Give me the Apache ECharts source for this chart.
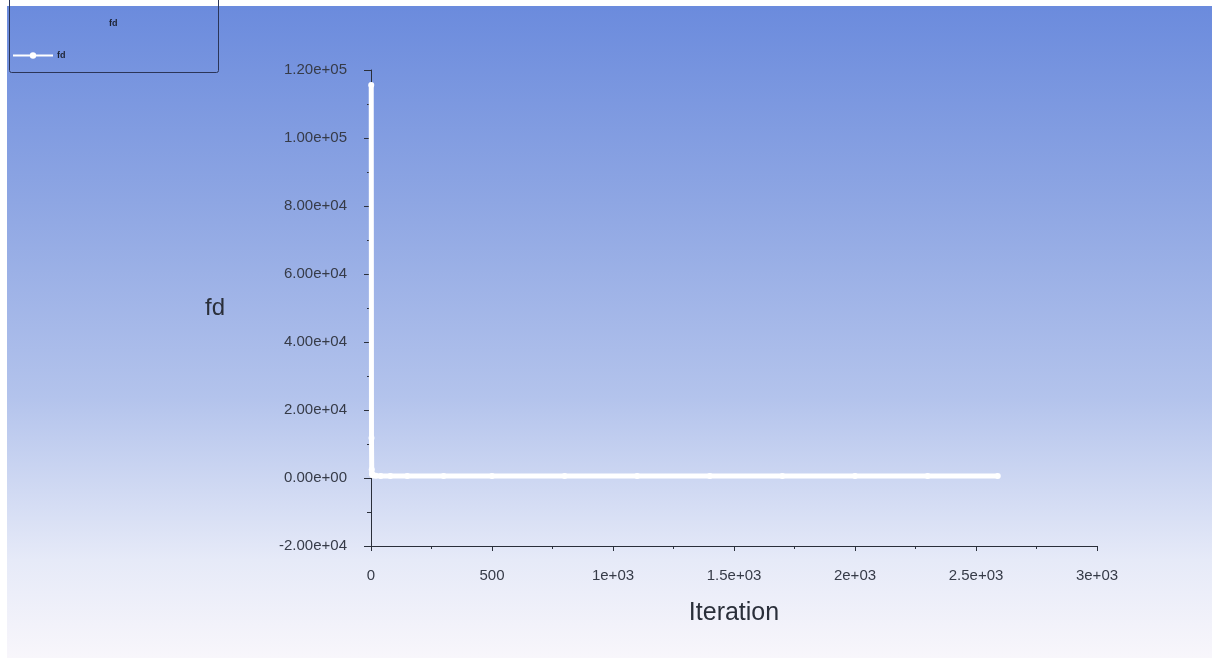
<!DOCTYPE html>
<html>
<head>
<meta charset="utf-8">
<script src="https://cdn.jsdelivr.net/npm/echarts@6/dist/echarts.min.js"></script>
<style>
html,body{margin:0;padding:0;background:#fff;width:1214px;height:662px;overflow:hidden;}
#bg{position:absolute;left:7px;top:6px;width:1205px;height:652px;
background:linear-gradient(to bottom,#6b8bdd 0%,#8ea6e3 30%,#b3c3ec 60%,#e6eaf8 85%,#f8f6fb 100%);}
#chart{position:absolute;left:0;top:0;width:1214px;height:662px;}
</style>
</head>
<body>
<div id="bg"></div>
<div id="chart"></div>
<script>
const seriesName = 'fd';
const iterations = [1, 2, 3, 4, 6, 10, 20, 40, 80, 150, 300, 500, 800, 1100, 1400, 1700, 2000, 2300, 2590];
const fdValues = [115600, 11800, 2500, 1200, 900, 750, 650, 600, 600, 600, 600, 600, 600, 600, 600, 600, 600, 600, 600];
const xTickValues = [0, 500, 1000, 1500, 2000, 2500, 3000];
const xTickLabels = ['0', '500', '1e+03', '1.5e+03', '2e+03', '2.5e+03', '3e+03'];
const yTickValues = [-20000, 0, 20000, 40000, 60000, 80000, 100000, 120000];
const yTickLabels = ['-2.00e+04', '0.00e+00', '2.00e+04', '4.00e+04', '6.00e+04', '8.00e+04', '1.00e+05', '1.20e+05'];

const chart = echarts.init(document.getElementById('chart'), null, {renderer: 'canvas'});
const data = iterations.map((x, i) => [x, fdValues[i]]);
const axisColor = '#2a2f3a';
const labelColor = '#363b48';
const font = 'Liberation Sans';

chart.setOption({
  backgroundColor: 'transparent',
  animation: false,
  title: {
    text: seriesName,
    left: 104, top: 14,
    textStyle: {fontSize: 9, color: '#1d2333', fontWeight: 'bold', fontFamily: font}
  },
  legend: {
    left: 12, top: 51, padding: 0,
    itemWidth: 40, itemHeight: 8, itemGap: 4,
    textStyle: {fontSize: 9, color: '#1d2333', fontWeight: 'bold', fontFamily: font, padding: [0, 0, 0, -1]},
    data: [seriesName]
  },
  graphic: [{
    type: 'rect', left: 9, top: -4,
    shape: {width: 209, height: 76, r: 2},
    style: {fill: 'transparent', stroke: '#2b3558', lineWidth: 1},
    silent: true
  }],
  grid: {left: 371, right: 117, top: 70, bottom: 116},
  xAxis: {
    type: 'value', min: 0, max: 3000, interval: 500,
    name: 'Iteration', nameLocation: 'middle', nameGap: 55,
    nameTextStyle: {fontSize: 25, color: '#2a2f3a', fontFamily: font},
    axisLine: {show: true, onZero: false, lineStyle: {color: axisColor, width: 1}},
    axisTick: {show: true, inside: false, length: 5, lineStyle: {color: axisColor}},
    minorTick: {show: true, splitNumber: 2, length: 3, lineStyle: {color: axisColor}},
    splitLine: {show: false},
    axisLabel: {
      margin: 22, fontSize: 15, color: labelColor, fontFamily: font,
      formatter: v => { const i = xTickValues.indexOf(v); return i >= 0 ? xTickLabels[i] : ''; }
    }
  },
  yAxis: {
    type: 'value', min: -20000, max: 120000, interval: 20000,
    name: 'fd', nameLocation: 'middle', nameGap: 146, nameRotate: 0,
    nameTextStyle: {fontSize: 24, color: '#2a2f3a', fontFamily: font},
    axisLine: {show: true, lineStyle: {color: axisColor, width: 1}},
    axisTick: {show: true, inside: false, length: 7, lineStyle: {color: axisColor}},
    minorTick: {show: true, splitNumber: 2, length: 4, lineStyle: {color: axisColor}},
    splitLine: {show: false},
    axisLabel: {
      margin: 24, fontSize: 15, color: labelColor, fontFamily: font,
      formatter: v => { const i = yTickValues.indexOf(v); return i >= 0 ? yTickLabels[i] : ''; }
    }
  },
  series: [{
    name: seriesName,
    type: 'line',
    data: data,
    showSymbol: true,
    symbol: 'circle',
    symbolSize: 6,
    itemStyle: {color: '#ffffff'},
    lineStyle: {color: '#ffffff', width: 5},
    z: 5
  }]
});
</script>
</body>
</html>
